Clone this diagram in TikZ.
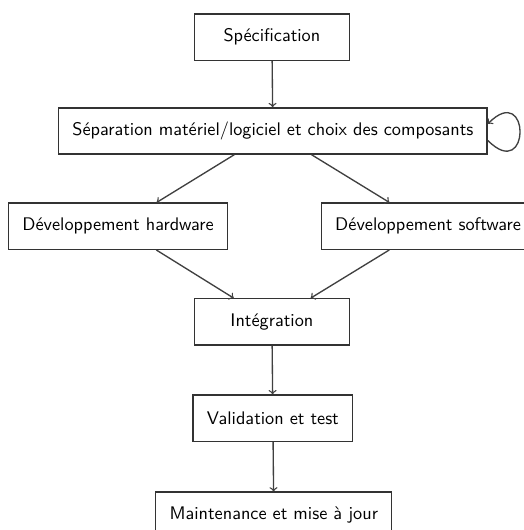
\documentclass[tikz,border=0pt]{standalone}
\usetikzlibrary{arrows}
\begin{document}
\begin{tikzpicture}[font=\sffamily\fontsize{10.9}{13}\selectfont,
        etape/.style={draw=black!80, thick, minimum width=3.25cm, minimum height=0.97cm, inner xsep=0.29cm},
        fleche/.style={->, draw=black!75, thick}]
        \useasboundingbox (0,0) rectangle (11.0,-11.13);

        % etapes du cycle
        \node[etape] (spec) at (5.71,-0.78) {Spécification};
        \node[etape] (sep) at (5.73,-2.75) {Séparation matériel/logiciel et choix des composants};
        \node[etape] (hw) at (2.48,-4.75) {Développement hardware};
        \node[etape] (sw) at (8.99,-4.75) {Développement software};
        \node[etape] (integ) at (5.71,-6.76) {Intégration};
        \node[etape] (valid) at (5.73,-8.78) {Validation et test};
        \node[etape] (maint) at (5.75,-10.82) {Maintenance et mise à jour};

        % fleches
        \draw[fleche] (spec) -- (sep);
        \draw[fleche] ([yshift=-.2cm]sep.east) .. controls +(.9,-.9) and +(.9,.9) .. ([yshift=.15cm]sep.east);
        \draw[fleche] (sep) -- (hw);
        \draw[fleche] (sep) -- (sw);
        \draw[fleche] (hw) -- (integ);
        \draw[fleche] (sw) -- (integ);
        \draw[fleche] (integ) -- (valid);
        \draw[fleche] (valid) -- (maint);

\end{tikzpicture}
\end{document}
